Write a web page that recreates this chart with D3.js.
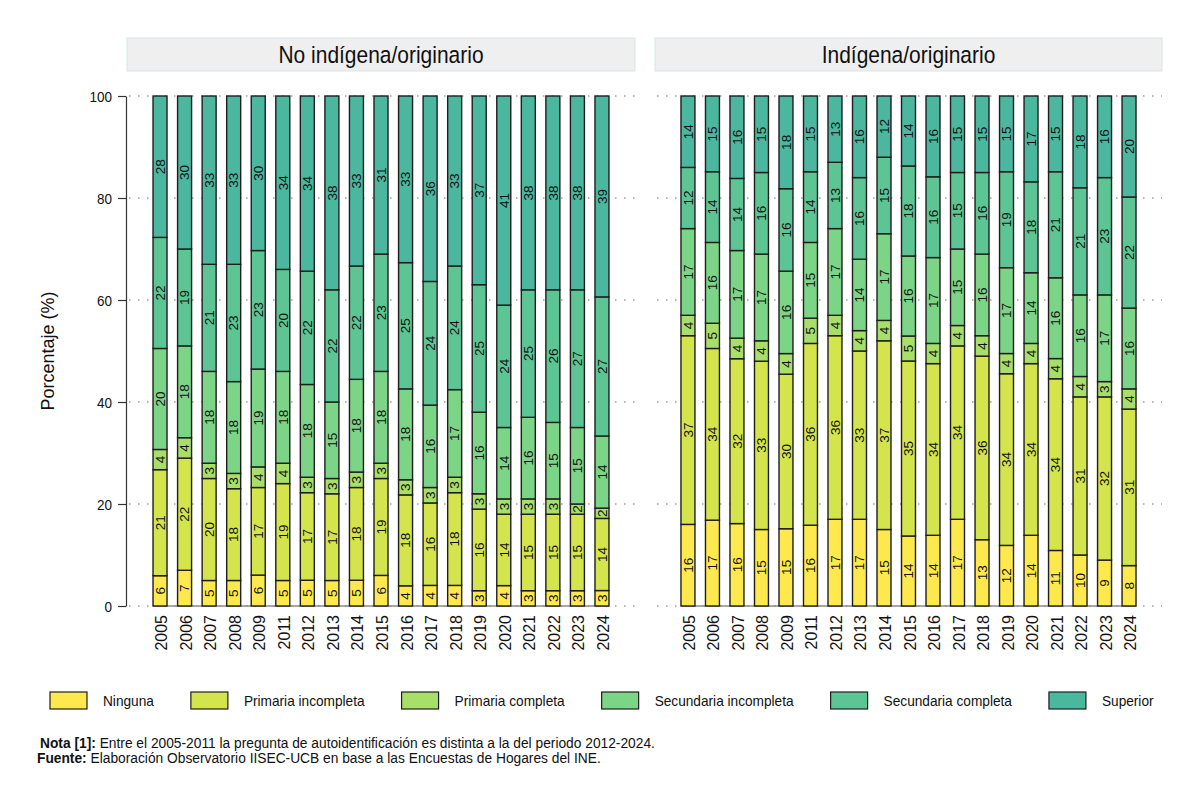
<!DOCTYPE html>
<html>
<head>
<meta charset="utf-8">
<script src="https://cdn.jsdelivr.net/npm/d3@7"></script>
<style>
  body { margin: 0; background: #fff; }
  svg { font-family: "Liberation Sans", Arial, sans-serif; }
</style>
</head>
<body>
<div id="chart"></div>
<script>
// años y categorías
const years = ["2005","2006","2007","2008","2009","2011","2012","2013","2014","2015","2016","2017","2018","2019","2020","2021","2022","2023","2024"];
const categories = ["Ninguna","Primaria incompleta","Primaria completa","Secundaria incompleta","Secundaria completa","Superior"];
const panelTitles = ["No indígena/originario","Indígena/originario"];
const yTicks = [0,20,40,60,80,100];
const colors = ["#fde94e","#d3e44d","#a8de6a","#7cd486","#5cc593","#4cb79f"];

// No indígena/originario (%)
const noIndNinguna   = [6,7,5,5,6,5,5,5,5,6,4,4,4,3,4,3,3,3,3];
const noIndPrimInc   = [21,22,20,18,17,19,17,17,18,19,18,16,18,16,14,15,15,15,14];
const noIndPrimComp  = [4,4,3,3,4,4,3,3,3,3,3,3,3,3,3,3,3,2,2];
const noIndSecInc    = [20,18,18,18,19,18,18,15,18,18,18,16,17,16,14,16,15,15,14];
const noIndSecComp   = [22,19,21,23,23,20,22,22,22,23,25,24,24,25,24,25,26,27,27];
const noIndSuperior  = [28,30,33,33,30,34,34,38,33,31,33,36,33,37,41,38,38,38,39];

// Indígena/originario (%)
const indNinguna     = [16,17,16,15,15,16,17,17,15,14,14,17,13,12,14,11,10,9,8];
const indPrimInc     = [37,34,32,33,30,36,36,33,37,35,34,34,36,34,34,34,31,32,31];
const indPrimComp    = [4,5,4,4,4,5,4,4,4,5,4,4,4,4,4,4,4,3,4];
const indSecInc      = [17,16,17,17,16,15,17,14,17,16,17,15,16,17,14,16,16,17,16];
const indSecComp     = [12,14,14,16,16,14,13,16,15,18,16,15,16,19,18,21,21,23,22];
const indSuperior    = [14,15,16,15,18,15,13,16,12,14,16,15,15,15,17,15,18,16,20];

const panelSeries = [
  [noIndNinguna, noIndPrimInc, noIndPrimComp, noIndSecInc, noIndSecComp, noIndSuperior],
  [indNinguna, indPrimInc, indPrimComp, indSecInc, indSecComp, indSuperior]
];

const width = 1200, height = 801;
const narrow = 0.9; // el texto horizontal del original es algo comprimido

const svg = d3.select("#chart").append("svg")
  .attr("width", width).attr("height", height)
  .attr("viewBox", [0, 0, width, height]);

const panelX = [[127, 635], [655, 1162]];
const y = d3.scaleLinear().domain([0, 1]).range([606, 96]);
const color = d3.scaleOrdinal(categories, colors);

function hText(sel, x, yy) {
  return sel.attr("transform", `translate(${x},${yy}) scale(${narrow},1)`);
}

panelSeries.forEach((series, p) => {
  const [x0, x1] = panelX[p];
  // tabla para d3.stack
  const table = years.map((yr, i) => {
    const row = { year: yr };
    categories.forEach((c, k) => row[c] = series[k][i]);
    return row;
  });
  const stacked = d3.stack().keys(categories).offset(d3.stackOffsetExpand)(table);

  const x = d3.scaleBand().domain(years).range([x0, x1])
    .paddingInner(0.43).paddingOuter(1.06);

  const g = svg.append("g");

  // encabezado del panel
  g.append("rect")
    .attr("x", x0).attr("y", 38).attr("width", x1 - x0).attr("height", 33)
    .attr("fill", "#efefef").attr("stroke", "#d9e4e8");
  hText(g.append("text"), (x0 + x1) / 2, 63)
    .attr("text-anchor", "middle").attr("font-size", 23.3).attr("fill", "#111")
    .text(panelTitles[p]);

  // líneas de cuadrícula punteadas
  g.selectAll("line.grid").data(yTicks).join("line")
    .attr("class", "grid")
    .attr("x1", x0 + 2).attr("x2", x1)
    .attr("y1", d => y(d / 100)).attr("y2", d => y(d / 100))
    .attr("stroke", "#a0a0a0").attr("stroke-width", 1.5)
    .attr("stroke-dasharray", "1.5 7.5");

  // eje x (línea base)
  g.append("line")
    .attr("x1", x(years[0])).attr("x2", x(years[years.length - 1]) + x.bandwidth())
    .attr("y1", y(0)).attr("y2", y(0))
    .attr("stroke", "#8a8a8a").attr("stroke-width", 1.6);

  // barras apiladas
  const layer = g.selectAll("g.layer").data(stacked).join("g")
    .attr("class", "layer")
    .attr("fill", d => color(d.key));
  layer.selectAll("rect").data(d => d).join("rect")
    .attr("x", d => x(d.data.year))
    .attr("width", x.bandwidth())
    .attr("y", d => y(d[1]))
    .attr("height", d => y(d[0]) - y(d[1]))
    .attr("stroke", "#1e1e1e").attr("stroke-width", 1.4);

  // etiquetas de valor
  layer.each(function(s) {
    d3.select(this).selectAll("text").data(s).join("text")
      .attr("transform", d => {
        const cx = x(d.data.year) + x.bandwidth() / 2;
        const cy = y((d[0] + d[1]) / 2);
        return `translate(${cx + 4.8},${cy}) rotate(-90)`;
      })
      .attr("text-anchor", "middle")
      .attr("font-size", 13.5).attr("fill", "#111")
      .text(d => d.data[s.key]);
  });

  // etiquetas del eje x
  g.selectAll("text.year").data(years).join("text")
    .attr("class", "year")
    .attr("transform", d => `translate(${x(d) + x.bandwidth() / 2 + 7},${615}) rotate(-90)`)
    .attr("text-anchor", "end")
    .attr("font-size", 16).attr("fill", "#111")
    .text(d => d);

  // eje y solo en el primer panel
  if (p === 0) {
    const axis = d3.axisLeft(y)
      .tickValues(yTicks.map(v => v / 100))
      .tickFormat(v => Math.round(v * 100))
      .tickSize(8).tickSizeOuter(0);
    const ag = g.append("g").attr("transform", `translate(${x0 - 1},0)`).call(axis);
    ag.attr("font-family", null).attr("font-size", null);
    ag.select(".domain").attr("stroke", "#333").attr("stroke-width", 1.2);
    ag.selectAll(".tick line").attr("stroke", "#333").attr("stroke-width", 1.2);
    ag.selectAll(".tick text").attr("font-size", 15).attr("fill", "#111")
      .attr("x", null).attr("dy", null)
      .attr("transform", `translate(-14,5.3) scale(${narrow},1)`);
  }
});

// título del eje y
svg.append("text")
  .attr("transform", `translate(54,${y(0.5)}) rotate(-90)`)
  .attr("text-anchor", "middle").attr("font-size", 18).attr("fill", "#111")
  .text("Porcentaje (%)");

// leyenda
const legend = svg.append("g").attr("transform", "translate(50,692)");
let lx = 0;
categories.forEach((c, k) => {
  const item = legend.append("g").attr("transform", `translate(${lx},0)`);
  item.append("rect").attr("width", 37).attr("height", 17)
    .attr("fill", colors[k]).attr("stroke", "#1e1e1e").attr("stroke-width", 1.2);
  const t = hText(item.append("text"), 53, 14)
    .attr("font-size", 15.2).attr("fill", "#111").text(c);
  lx += 53 + t.node().getComputedTextLength() * narrow + 37;
});

// notas
const notes = svg.append("g").attr("font-size", 15.3).attr("fill", "#111");
const n1 = hText(notes.append("text"), 40, 748);
n1.append("tspan").attr("font-weight", "bold").text("Nota [1]:");
n1.append("tspan").text(" Entre el 2005-2011 la pregunta de autoidentificación es distinta a la del periodo 2012-2024.");
const n2 = hText(notes.append("text"), 37, 763);
n2.append("tspan").attr("font-weight", "bold").text("Fuente:");
n2.append("tspan").text(" Elaboración Observatorio IISEC-UCB en base a las Encuestas de Hogares del INE.");
</script>
</body>
</html>
